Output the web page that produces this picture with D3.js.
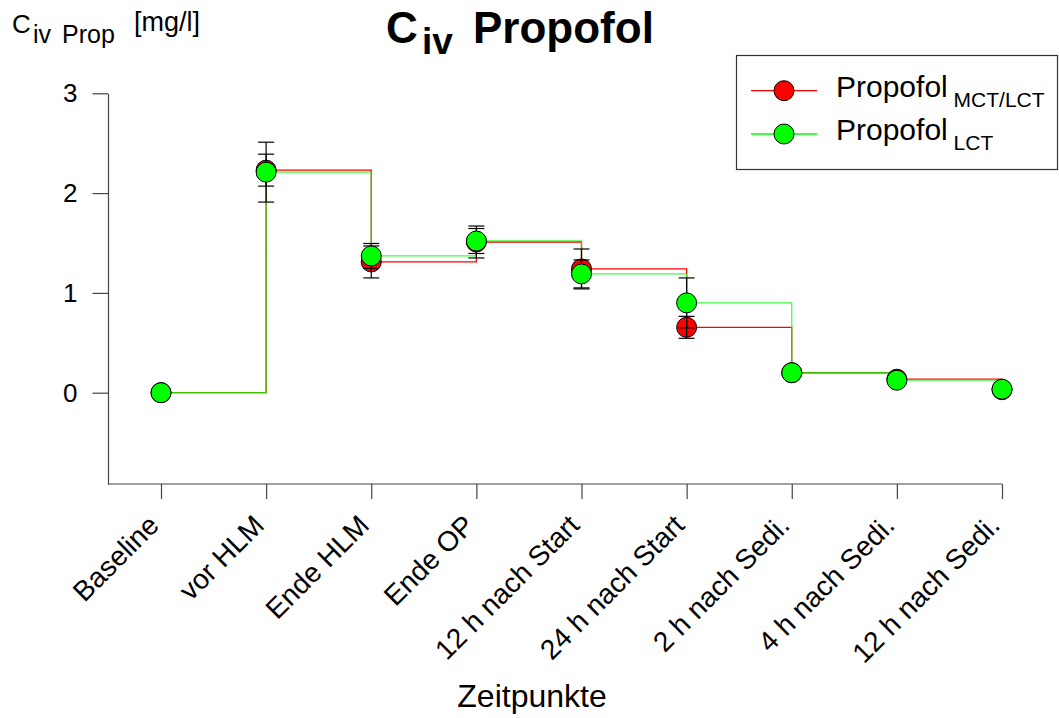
<!DOCTYPE html>
<html>
<head>
<meta charset="utf-8">
<script src="https://cdn.jsdelivr.net/npm/d3@7"></script>
<style>
  html, body { margin: 0; padding: 0; background: #fff; }
  svg { display: block; font-family: "Liberation Sans", Arial, Helvetica, sans-serif; }
</style>
</head>
<body>
<script>
// ---------- data ----------
const categories = ["Baseline", "vor HLM", "Ende HLM", "Ende OP", "12 h nach Start",
                    "24 h nach Start", "2 h nach Sedi.", "4 h nach Sedi.", "12 h nach Sedi."];
const mctLctValues = [0, 2.23, 1.31, 1.51, 1.24, 0.655, 0.20, 0.135, 0.03];
const mctLctErrors = [0, 0.16, 0.16, 0.16, 0.20, 0.11, 0.02, 0.01, 0.01];
const lctValues    = [0, 2.21, 1.37, 1.52, 1.19, 0.90, 0.20, 0.125, 0.035];
const lctErrors    = [0, 0.30, 0.125, 0.125, 0.14, 0.25, 0.02, 0.01, 0.01];
const yTicks = [0, 1, 2, 3];
const seriesNames = ["MCT/LCT", "LCT"];

// ---------- layout ----------
const W = 1059, H = 718;
const plotLeft = 108, plotBottom = 484, plotTop = 93.3;
const svg = d3.select("body").append("svg").attr("width", W).attr("height", H);

const x = d3.scalePoint().domain(categories).range([161, 1002]);
const y = d3.scaleLinear().domain([-0.915, 3]).range([plotBottom, plotTop]);

const axisColor = "#444";

// Y axis
const yAxis = svg.append("g")
  .attr("transform", `translate(${plotLeft},0)`)
  .call(d3.axisLeft(y).tickValues(yTicks).tickFormat(d3.format("d"))
        .tickSize(15.5).tickSizeOuter(0).tickPadding(15));
yAxis.select(".domain").attr("stroke", axisColor).attr("stroke-width", 1.2);
yAxis.selectAll(".tick line").attr("stroke", axisColor).attr("stroke-width", 1.2);
yAxis.selectAll(".tick text").attr("font-size", 26).attr("fill", "#000")
  .attr("font-family", "Liberation Sans, Arial, sans-serif");

// X axis
svg.append("line")
  .attr("x1", plotLeft).attr("x2", x(categories[categories.length - 1]))
  .attr("y1", plotBottom).attr("y2", plotBottom)
  .attr("stroke", axisColor).attr("stroke-width", 1.2);
const xAxis = svg.append("g")
  .attr("transform", `translate(0,${plotBottom})`)
  .call(d3.axisBottom(x).tickSize(15).tickSizeOuter(0));
xAxis.select(".domain").remove();
xAxis.selectAll(".tick line").attr("stroke", axisColor).attr("stroke-width", 1.2);
xAxis.selectAll(".tick text").remove();
xAxis.selectAll(".tick").append("text")
  .attr("transform", "translate(-1,43) rotate(-45)")
  .attr("text-anchor", "end")
  .attr("font-size", 28)
  .attr("fill", "#000")
  .attr("font-family", "Liberation Sans, Arial, sans-serif")
  .text(d => d);

// Axis titles
svg.append("text")
  .attr("x", 532).attr("y", 707)
  .attr("text-anchor", "middle")
  .attr("font-size", 32)
  .text("Zeitpunkte");

const yl = svg.append("g");
yl.append("text").attr("x", 12).attr("y", 33).attr("font-size", 26).text("C");
yl.append("text").attr("x", 33).attr("y", 43).attr("font-size", 25).text("iv");
yl.append("text").attr("x", 62).attr("y", 43).attr("font-size", 25).text("Prop");
yl.append("text").attr("x", 134).attr("y", 31).attr("font-size", 27).text("[mg/l]");

// Title
const tg = svg.append("g").attr("font-weight", "bold");
tg.append("text").attr("x", 386).attr("y", 43).attr("font-size", 44).text("C");
tg.append("text").attr("x", 422).attr("y", 54).attr("font-size", 37).text("iv");
tg.append("text").attr("x", 473).attr("y", 43).attr("font-size", 44).text("Propofol");

// ---------- series ----------
const series = [
  { name: seriesNames[0], values: mctLctValues, errors: mctLctErrors, color: "#ff0000", opacity: 1 },
  { name: seriesNames[1], values: lctValues, errors: lctErrors, color: "#00ff00", opacity: 0.75 }
];

const line = d3.line()
  .x((d, i) => x(categories[i]))
  .y(d => y(d))
  .curve(d3.curveStepAfter);

series.forEach(s => {
  svg.append("path")
    .attr("d", line(s.values))
    .attr("fill", "none")
    .attr("stroke", s.color)
    .attr("stroke-opacity", s.opacity)
    .attr("stroke-width", 1.3);
});

function drawMarkers(s) {
  svg.append("g").selectAll("circle")
    .data(s.values)
    .join("circle")
    .attr("cx", (d, i) => x(categories[i]))
    .attr("cy", d => y(d))
    .attr("r", 10)
    .attr("fill", s.color)
    .attr("stroke", "#000")
    .attr("stroke-width", 1);
}

drawMarkers(series[0]);

// error bars
series.forEach(s => {
  const g = svg.append("g").attr("stroke", "#000").attr("stroke-width", 1.2);
  s.values.forEach((v, i) => {
    const e = s.errors[i];
    if (!e) return;
    const cx = x(categories[i]);
    g.append("line").attr("x1", cx).attr("x2", cx).attr("y1", y(v - e)).attr("y2", y(v + e));
    [v - e, v + e].forEach(val => {
      g.append("line").attr("x1", cx - 8).attr("x2", cx + 8).attr("y1", y(val)).attr("y2", y(val));
    });
  });
});

drawMarkers(series[1]);

// ---------- legend ----------
const lg = svg.append("g");
lg.append("rect")
  .attr("x", 736.5).attr("y", 55.5).attr("width", 321).attr("height", 114)
  .attr("fill", "#fff").attr("stroke", "#333").attr("stroke-width", 1.2);
const legendY = [90.7, 134];
series.forEach((s, k) => {
  const ly = legendY[k];
  lg.append("line").attr("x1", 751).attr("x2", 817).attr("y1", ly).attr("y2", ly)
    .attr("stroke", s.color).attr("stroke-width", 1.3);
  lg.append("circle").attr("cx", 784).attr("cy", ly).attr("r", 10)
    .attr("fill", s.color).attr("stroke", "#000").attr("stroke-width", 1);
  const tx = lg.append("text").attr("x", 836).attr("y", ly + 6).attr("font-size", 30);
  tx.append("tspan").text("Propofol");
  tx.append("tspan").attr("dy", 10).attr("font-size", 21).text(" " + s.name);
});
</script>
</body>
</html>
